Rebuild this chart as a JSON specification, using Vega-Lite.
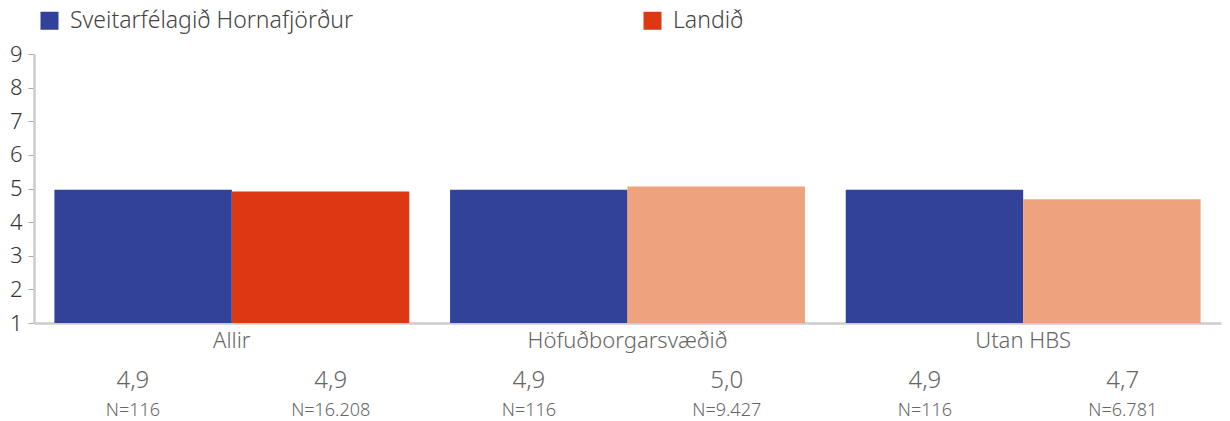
{
  "$schema": "https://vega.github.io/schema/vega-lite/v6.json",
  "padding": {"left": 9, "top": 5, "right": 4, "bottom": 0},
  "background": "white",
  "config": {
    "font": "Noto Sans",
    "view": {"stroke": null},
    "legend": {"labelFont": "Noto Sans"}
  },
  "data": {
    "values": [
      {"group": "Allir", "series": "Sveitarfélagið Hornafjörður", "value": 4.96, "label": "4,9", "n": "N=116"},
      {"group": "Allir", "series": "Landið", "value": 4.91, "label": "4,9", "n": "N=16.208"},
      {"group": "Höfuðborgarsvæðið", "series": "Sveitarfélagið Hornafjörður", "value": 4.96, "label": "4,9", "n": "N=116"},
      {"group": "Höfuðborgarsvæðið", "series": "Landið", "value": 5.06, "label": "5,0", "n": "N=9.427"},
      {"group": "Utan HBS", "series": "Sveitarfélagið Hornafjörður", "value": 4.96, "label": "4,9", "n": "N=116"},
      {"group": "Utan HBS", "series": "Landið", "value": 4.68, "label": "4,7", "n": "N=6.781"}
    ]
  },
  "spacing": 18,
  "vconcat": [
    {
      "width": 1187,
      "height": 269,
      "mark": {"type": "bar"},
      "encoding": {
        "x": {
          "field": "group", "type": "nominal", "sort": null,
          "scale": {"paddingInner": 0, "paddingOuter": 0},
          "axis": {"title": null, "labelAngle": 0, "labelFontSize": 22, "labelColor": "#666666", "labelFont": "Noto Sans", "labelFontWeight": 300,
                   "labelLimit": 500, "ticks": false, "domainColor": "#cccccc", "domainWidth": 2.5, "labelPadding": 7}
        },
        "xOffset": {
          "field": "series", "type": "nominal",
          "sort": ["Sveitarfélagið Hornafjörður", "Landið"],
          "scale": {"paddingInner": 0, "paddingOuter": 0.115}
        },
        "y": {
          "field": "value", "type": "quantitative",
          "scale": {"domain": [1, 9], "zero": false, "nice": false},
          "axis": {"title": null, "values": [1,2,3,4,5,6,7,8,9], "grid": false, "labelFontSize": 22, "labelColor": "#333333", "labelFontWeight": 300,
                   "labelFont": "Noto Sans", "domainColor": "#cccccc", "domainWidth": 2.5, "tickColor": "#aaaaaa", "tickSize": 6, "labelPadding": 6}
        },
        "y2": {"datum": 1},
        "color": {
          "field": "series", "type": "nominal",
          "scale": {"domain": ["Sveitarfélagið Hornafjörður", "Landið"], "range": ["#334299", "#dd3814"]},
          "legend": {"title": null, "orient": "top", "direction": "horizontal", "symbolType": "square", "symbolSize": 324,
                     "labelFontSize": 23, "labelFontWeight": 300, "labelColor": "#444444", "columnPadding": 287, "labelLimit": 500,
                     "offset": 6, "padding": 4, "symbolStrokeWidth": 0, "labelOffset": 9},
          "condition": {"test": "datum.group !== 'Allir' && datum.series === 'Landið'", "value": "#eea27d"}
        }
      }
    },
    {
      "transform": [{"fold": ["label", "n"], "as": ["row", "txt"]}],
      "facet": {"column": {"field": "group", "type": "nominal", "sort": null, "header": null}},
      "spacing": {"column": 0},
      "spec": {
        "width": 395.67,
        "height": 48,
        "mark": {"type": "text", "fontWeight": 300, "color": "#666666", "font": "Noto Sans"},
        "encoding": {
          "x": {"field": "series", "type": "nominal", "sort": ["Sveitarfélagið Hornafjörður", "Landið"], "scale": {"paddingInner": 0, "paddingOuter": 0}, "axis": null},
          "y": {"field": "row", "type": "nominal", "scale": {"domain": ["label", "n"], "type": "point", "padding": 0.3}, "axis": null},
          "text": {"field": "txt"},
          "size": {"field": "row", "type": "nominal", "scale": {"domain": ["label", "n"], "range": [24, 18]}, "legend": null}
        }
      }
    }
  ]
}
